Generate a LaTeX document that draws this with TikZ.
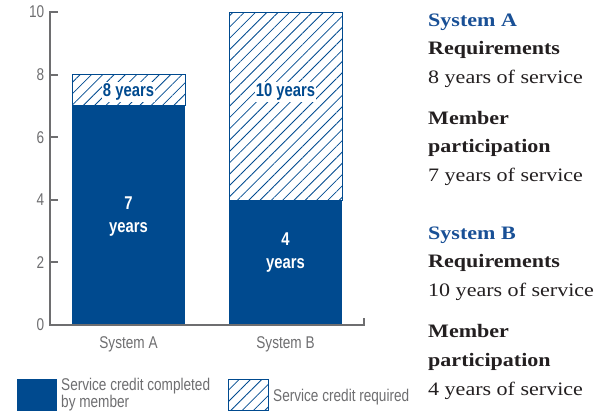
\documentclass[tikz,border=0pt]{standalone}
\usepackage{fontspec}
\setmainfont{Liberation Serif}[FakeStretch=1.16]
\newfontfamily\chartfont{Liberation Sans}[FakeStretch=0.8]
\usetikzlibrary{patterns.meta}
\definecolor{barblue}{RGB}{0,74,143}
\definecolor{titleblue}{RGB}{25,80,150}
\definecolor{axisgray}{RGB}{110,110,112}
\definecolor{textdark}{RGB}{35,31,32}

\begin{document}
\begin{tikzpicture}[x=1pt,y=-1pt,
        axisline/.style={draw=axisgray,line width=2.4pt},
        tickmark/.style={draw=axisgray,line width=2pt},
        chartlabel/.style={text=axisgray,inner sep=0pt,font=\chartfont\fontsize{17}{15}\selectfont},
        filledbar/.style={fill=barblue},
        hatchbar/.style={draw=barblue,line width=1pt,pattern={Lines[angle=45,distance=8pt,line width=0.8pt]},pattern color=barblue},
        barlabel/.style={font=\chartfont\bfseries\fontsize{18.5}{23}\selectfont,align=center,inner sep=1.2pt},
        heading/.style={anchor=base west,inner sep=0pt,text=textdark,font=\bfseries\fontsize{19}{28}\selectfont},
        bodytext/.style={anchor=base west,inner sep=0pt,text=textdark,font=\fontsize{19}{28}\selectfont}]
    \useasboundingbox (0,0) rectangle (613,415);
    % bars
    \fill[filledbar] (72,105) rectangle (185,325);
    \draw[hatchbar] (72,74.6) rectangle (185,105);
    \fill[filledbar] (229,200) rectangle (342,325);
    \draw[hatchbar] (229,12) rectangle (342,200);
    % axes
    \draw[axisline] (50,11) -- (50,325) -- (364,325) -- (364,318);
    \foreach \v in {0,2,...,10} {
        \draw[tickmark] (50,{325-31.3*\v}) -- (58,{325-31.3*\v});
        \node[chartlabel,anchor=east] (ylab\v) at (44.5,{325-31.3*\v}) {\v};
    }
    \node[chartlabel,anchor=base] (xlabA) at (128.5,348) {System A};
    \node[chartlabel,anchor=base] (xlabB) at (285.5,348) {System B};
    % bar labels
    \node[barlabel,text=barblue,fill=white,anchor=base] (reqlabA) at (128.5,96.5) {8 years};
    \node[barlabel,text=barblue,fill=white,anchor=base] (reqlabB) at (285.5,96.5) {10 years};
    \node[barlabel,text=white] (memlabA) at (128.5,217) {7\\years};
    \node[barlabel,text=white] (memlabB) at (285.5,253) {4\\years};
    % legend
    \fill[filledbar] (17,379) rectangle (57,411);
    \node[chartlabel,anchor=base west,align=left] (legfilled) at (61,407.7) {Service credit completed\\by member};
    \draw[hatchbar] (228,379.5) rectangle (268,410.5);
    \node[chartlabel,anchor=base west] (leghatch) at (273,401.7) {Service credit required};
    % side text
    \node[heading,text=titleblue] (titleA) at (428,26) {System A};
    \node[heading] (reqA) at (428,54.5) {Requirements};
    \node[bodytext] (reqvalA) at (428,83) {8 years of service};
    \node[heading] (memA) at (428,124) {Member};
    \node[heading] (partA) at (428,152.5) {participation};
    \node[bodytext] (partvalA) at (428,181.5) {7 years of service};
    \node[heading,text=titleblue] (titleB) at (428,239) {System B};
    \node[heading] (reqB) at (428,267.5) {Requirements};
    \node[bodytext] (reqvalB) at (428,296) {10 years of service};
    \node[heading] (memB) at (428,337.5) {Member};
    \node[heading] (partB) at (428,366.5) {participation};
    \node[bodytext] (partvalB) at (428,395) {4 years of service};
\end{tikzpicture}
\end{document}
